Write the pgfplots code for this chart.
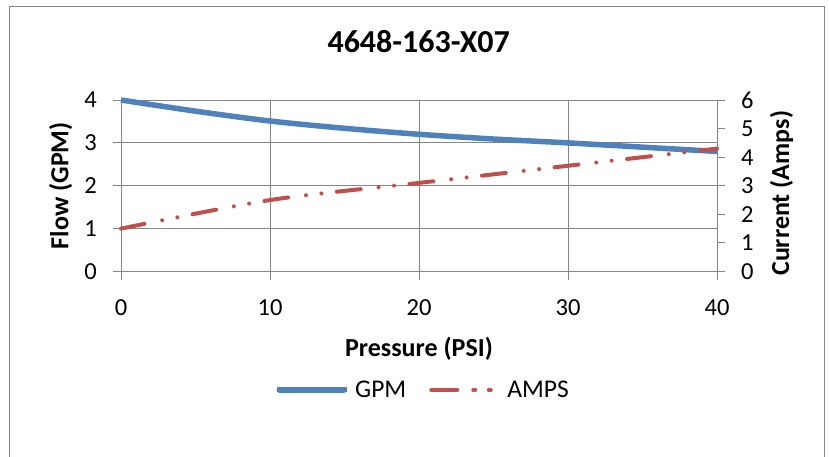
\documentclass[border=0pt]{standalone}
\usepackage{fontspec}
\setmainfont{Carlito}
\usepackage{pgfplots}
\pgfplotsset{compat=1.18}
\definecolor{gridgray}{RGB}{134,134,134}
\definecolor{framegray}{RGB}{134,134,134}
\definecolor{gpmblue}{RGB}{79,129,189}
\definecolor{ampsred}{RGB}{192,80,77}
\begin{document}
\begin{tikzpicture}[x=1pt,y=1pt]
\useasboundingbox (0,0) rectangle (829,456);
\draw[framegray, line width=1pt] (9,-20) rectangle (824,449);
\begin{axis}[
  at={(121pt,184.5pt)}, anchor=south west,
  scale only axis, width=596pt, height=171.5pt,
  xmin=0, xmax=40, ymin=0, ymax=4,
  xtick={0,10,20,30,40}, ytick={0,1,2,3,4},
  xtick pos=left, ytick pos=left,
  tick align=outside, major tick length=8pt,
  grid=major, grid style={gridgray, line width=1pt},
  axis line style={gridgray, line width=1pt},
  tick style={gridgray, line width=1pt},
  /pgf/number format/assume math mode=true,
  tick label style={font=\fontsize{24.5}{29}\selectfont, inner sep=0pt},
  yticklabel style={anchor=east, xshift=-16pt},
  xticklabel style={anchor=north, yshift=-19.5pt},
  title={4648-163-X07},
  title style={at={(axis description cs:0.4995,1.2431)}, anchor=base, inner sep=0pt, font=\bfseries\fontsize{32}{38}\selectfont},
  xlabel={Pressure (PSI)},
  xlabel style={at={(axis description cs:0.5,-0.4942)}, anchor=base, inner sep=0pt, font=\bfseries\fontsize{26}{31}\selectfont},
  ylabel={Flow (GPM)},
  ylabel style={at={(axis description cs:-0.0884,0.5)}, anchor=base, inner sep=0pt, font=\bfseries\fontsize{26}{31}\selectfont},
  clip=false,
]
\addplot[gpmblue, line width=5.5pt, smooth] coordinates {
  (0,4.00) (5,3.74) (10,3.51) (15,3.34) (20,3.20) (25,3.09) (30,3.00) (35,2.90) (40,2.80)
};
\end{axis}
\begin{axis}[
  at={(121pt,184.5pt)}, anchor=south west,
  scale only axis, width=596pt, height=171.5pt,
  xmin=0, xmax=40, ymin=0, ymax=6,
  axis x line=none, axis y line*=right,
  ytick={0,1,2,3,4,5,6},
  tick align=outside, major tick length=8pt,
  axis line style={gridgray, line width=1pt},
  tick style={gridgray, line width=1pt},
  /pgf/number format/assume math mode=true,
  tick label style={font=\fontsize{24.5}{29}\selectfont, inner sep=0pt},
  yticklabel style={anchor=west, xshift=16pt},
  ylabel={Current (Amps)},
  ylabel style={at={(axis description cs:1.1208,0.456)}, anchor=base, inner sep=0pt, font=\bfseries\fontsize{26}{31}\selectfont},
  clip=false,
  legend columns=2,
  legend style={at={(axis description cs:0.2567,-0.69)}, anchor=west, draw=none, fill=none, inner sep=0pt,
    font=\fontsize{25.5}{30}\selectfont, nodes={inner sep=0pt},
    /tikz/every odd column/.append style={column sep=6pt},
    /tikz/every even column/.append style={column sep=23pt}},
]
\addlegendimage{gpmblue, line width=5pt, legend image code/.code={\draw[gpmblue, line width=5.5pt, line cap=round] (2.75pt,0pt) -- (67.25pt,0pt); \path (0pt,0pt) -- (70pt,0pt);}}
\addlegendentry{GPM}
\addplot[ampsred, line width=4pt, line cap=round, smooth,
  dash pattern=on 24pt off 18pt on 0.01pt off 15.5pt on 0.01pt off 15.5pt,
  legend image code/.code={\draw[ampsred, line width=4pt, line cap=round, dash pattern=on 24pt off 18pt on 0.01pt off 15.5pt on 0.01pt off 15.5pt] (2pt,0pt) -- (62pt,0pt); \path (0pt,0pt) -- (68pt,0pt);}]
  coordinates {(0,1.5) (10,2.5) (20,3.1) (30,3.7) (40,4.3)};
\addlegendentry{AMPS}
\end{axis}
\end{tikzpicture}
\end{document}
